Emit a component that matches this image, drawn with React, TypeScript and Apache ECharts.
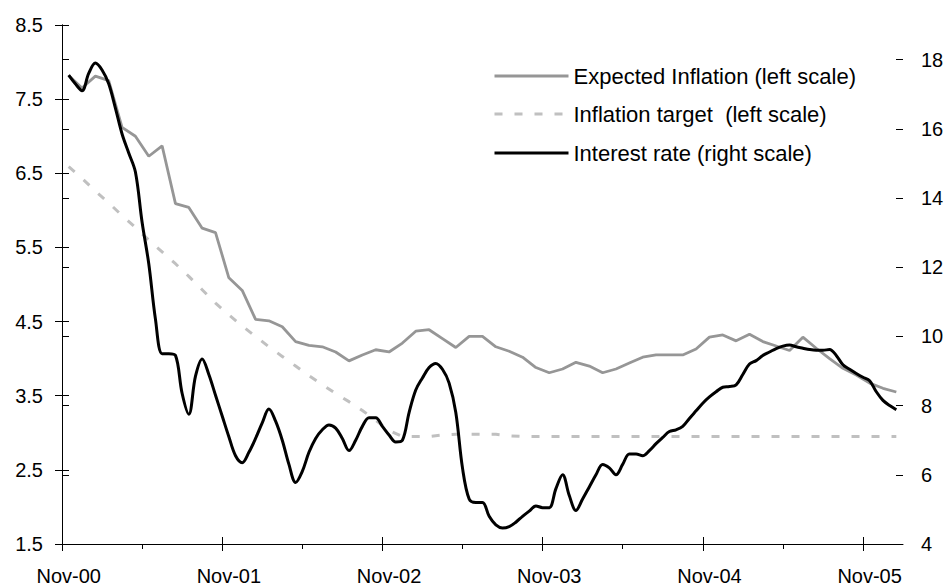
import React, { useEffect, useRef } from 'react';
import * as echarts from 'echarts';

// ---- data ----
const monthCount = 63; // Nov-00 .. Jan-06
const xTickLabels = ['Nov-00', 'Nov-01', 'Nov-02', 'Nov-03', 'Nov-04', 'Nov-05'];
const labelMonths = [0, 12, 24, 36, 48, 60];
const majorTickMonths = [0, 12, 24, 36, 48, 60];
const minorTickMonths = [6, 18, 30, 42, 54];
const leftTicks = [1.5, 2.5, 3.5, 4.5, 5.5, 6.5, 7.5, 8.5];
const rightTicks = [4, 6, 8, 10, 12, 14, 16, 18];

const seriesNames = [
  'Expected Inflation (left scale)',
  'Inflation target  (left scale)',
  'Interest rate (right scale)',
];

// monthly, Nov-00 .. Jan-06
const expectedInflation = [
  7.82, 7.65, 7.81, 7.75, 7.12, 7.0, 6.73, 6.87, 6.09, 6.04,
  5.76, 5.7, 5.09, 4.92, 4.53, 4.51, 4.43, 4.23, 4.18, 4.16,
  4.09, 3.97, 4.05, 4.12, 4.09, 4.21, 4.37, 4.39, 4.27, 4.15,
  4.3, 4.3, 4.16, 4.1, 4.02, 3.88, 3.81, 3.86, 3.95, 3.9,
  3.81, 3.86, 3.94, 4.02, 4.05, 4.05, 4.05, 4.13, 4.29, 4.32,
  4.24, 4.33, 4.23, 4.17, 4.11, 4.29, 4.14, 4.0, 3.87, 3.78,
  3.67, 3.6, 3.55,
];

// monthly, Nov-00 .. Jan-06
const inflationTarget = [
  6.59, 6.43, 6.26, 6.1, 5.93, 5.77, 5.6, 5.44, 5.28, 5.11,
  4.93, 4.75, 4.59, 4.44, 4.3, 4.16, 4.03, 3.9, 3.77, 3.65,
  3.53, 3.42, 3.3, 3.17, 3.03, 2.95, 2.95, 2.95, 2.97, 2.98,
  2.98, 2.98, 2.98, 2.96, 2.95, 2.95, 2.95, 2.95, 2.95, 2.95,
  2.95, 2.95, 2.95, 2.95, 2.95, 2.95, 2.95, 2.95, 2.95, 2.95,
  2.95, 2.95, 2.95, 2.95, 2.95, 2.95, 2.95, 2.95, 2.95, 2.95,
  2.95, 2.95, 2.95,
];

// half-monthly, starting half a month after Nov-00
const interestRate = [
  17.55,
  17.3, 17.1, 17.6, 17.9, 17.7, 17.3, 16.6, 15.85, 15.3, 14.75,
  13.3, 12.1, 10.5, 9.5, 9.5, 9.45, 8.35, 7.75, 8.85, 9.35,
  8.9, 8.3, 7.7, 7.1, 6.55, 6.35, 6.65, 7.05, 7.5, 7.9,
  7.55, 7.0, 6.3, 5.78, 6.1, 6.65, 7.05, 7.3, 7.44, 7.35,
  7.05, 6.7, 7.0, 7.4, 7.65, 7.65, 7.4, 7.15, 6.95, 7.0,
  7.8, 8.45, 8.8, 9.1, 9.22, 9.05, 8.65, 7.8, 6.2, 5.3,
  5.2, 5.2, 4.8, 4.55, 4.46, 4.5, 4.63, 4.8, 4.95, 5.1,
  5.05, 5.05, 5.6, 6.0, 5.4, 4.97, 5.3, 5.65, 6.0, 6.3,
  6.2, 6.0, 6.3, 6.6, 6.6, 6.55, 6.7, 6.9, 7.08, 7.25,
  7.3, 7.4, 7.63, 7.85, 8.07, 8.25, 8.4, 8.53, 8.55, 8.6,
  8.9, 9.2, 9.3, 9.45, 9.55, 9.65, 9.72, 9.75, 9.7, 9.66,
  9.62, 9.6, 9.6, 9.62, 9.45, 9.18, 9.05, 8.93, 8.82, 8.72,
  8.4, 8.15, 8.0, 7.88,
];

const FONT = '"Liberation Sans", Arial, Helvetica, sans-serif';

export default function App() {
  const ref = useRef<HTMLDivElement>(null);

  useEffect(() => {
    if (!ref.current) return;
    const chart = echarts.init(ref.current, undefined, { renderer: 'svg' });

    const baseX = {
      type: 'value' as const,
      min: 0,
      max: monthCount,
      position: 'bottom' as const,
      offset: 0,
      splitLine: { show: false },
    };
    const baseYL = {
      type: 'value' as const,
      min: 1.5,
      max: 8.5,
      interval: 1,
      position: 'left' as const,
      offset: 0,
      splitLine: { show: false },
    };
    const baseYR = {
      type: 'value' as const,
      min: 4,
      max: 19,
      interval: 2,
      position: 'right' as const,
      offset: 0,
      splitLine: { show: false },
    };
    const labelStyle = { color: '#000', fontSize: 20, fontFamily: FONT };

    const legendCommon = {
      orient: 'vertical' as const,
      left: 493,
      padding: 0,
      itemGap: 0,
      itemWidth: 74,
      itemHeight: 14,
      selectedMode: false,
      textStyle: { color: '#000', fontSize: 22, fontFamily: FONT, lineHeight: 22 },
      lineStyle: { width: 3 },
      itemStyle: { opacity: 0, borderWidth: 0 },
    };

    chart.setOption({
      animation: false,
      backgroundColor: '#fff',
      grid: { left: 62, right: 44, top: 25, bottom: 43, containLabel: false, outerBoundsMode: 'none' },
      legend: [
        { ...legendCommon, top: 65, data: [seriesNames[0]] },
        { ...legendCommon, top: 103, data: [seriesNames[1]] },
        { ...legendCommon, top: 142, data: [seriesNames[2]] },
      ],
      xAxis: [
        {
          ...baseX,
          axisLine: { show: true, lineStyle: { color: '#000', width: 1 } },
          axisTick: { show: true, customValues: majorTickMonths, length: 7, inside: false, lineStyle: { color: '#000' } },
          axisLabel: {
            ...labelStyle,
            margin: 22,
            customValues: labelMonths.map((m) => m + 0.5),
            formatter: (v: number) => xTickLabels[labelMonths.indexOf(Math.round(v - 0.5))] ?? '',
          },
        },
        {
          ...baseX,
          axisLine: { show: false },
          axisTick: { show: true, customValues: majorTickMonths, length: 7, inside: true, lineStyle: { color: '#000' } },
          axisLabel: { show: false },
        },
        {
          ...baseX,
          axisLine: { show: false },
          axisTick: { show: true, customValues: minorTickMonths, length: 5, inside: false, lineStyle: { color: '#000' } },
          axisLabel: { show: false },
        },
      ],
      yAxis: [
        {
          ...baseYL,
          axisLine: { show: true, lineStyle: { color: '#000', width: 1 } },
          axisTick: { show: true, customValues: leftTicks, length: 7, inside: false, lineStyle: { color: '#000' } },
          axisLabel: { ...labelStyle, margin: 19, customValues: leftTicks, formatter: (v: number) => v.toFixed(1) },
        },
        {
          ...baseYR,
          axisLine: { show: true, lineStyle: { color: '#000', width: 1 } },
          axisTick: { show: true, customValues: rightTicks, length: 7, inside: false, lineStyle: { color: '#000' } },
          axisLabel: { ...labelStyle, margin: 18, customValues: rightTicks, formatter: (v: number) => String(v) },
        },
        {
          ...baseYL,
          axisLine: { show: false },
          axisTick: { show: true, customValues: leftTicks, length: 7, inside: true, lineStyle: { color: '#000' } },
          axisLabel: { show: false },
        },
        {
          ...baseYR,
          axisLine: { show: false },
          axisTick: { show: true, customValues: rightTicks, length: 7, inside: true, lineStyle: { color: '#000' } },
          axisLabel: { show: false },
        },
      ],
      series: [
        {
          name: seriesNames[1],
          type: 'line',
          xAxisIndex: 0,
          yAxisIndex: 0,
          symbol: 'none',
          color: '#c0c0c0',
          lineStyle: { color: '#c0c0c0', width: 3, type: [8, 12] },
          data: inflationTarget.map((v, i) => [i + 0.5, v]),
          z: 2,
        },
        {
          name: seriesNames[0],
          type: 'line',
          xAxisIndex: 0,
          yAxisIndex: 0,
          symbol: 'none',
          color: '#969696',
          lineStyle: { color: '#969696', width: 2.8 },
          data: expectedInflation.map((v, i) => [i + 0.5, v]),
          z: 3,
        },
        {
          name: seriesNames[2],
          type: 'line',
          xAxisIndex: 0,
          yAxisIndex: 1,
          symbol: 'none',
          smooth: 0.35,
          color: '#000',
          lineStyle: { color: '#000', width: 3 },
          data: interestRate.map((v, i) => [0.5 + i * 0.5, v]),
          z: 4,
        },
      ],
    });

    return () => chart.dispose();
  }, []);

  return (
    <div
      ref={ref}
      style={{ position: 'absolute', left: 0, top: 0, width: 947, height: 587, background: '#fff' }}
    />
  );
}
